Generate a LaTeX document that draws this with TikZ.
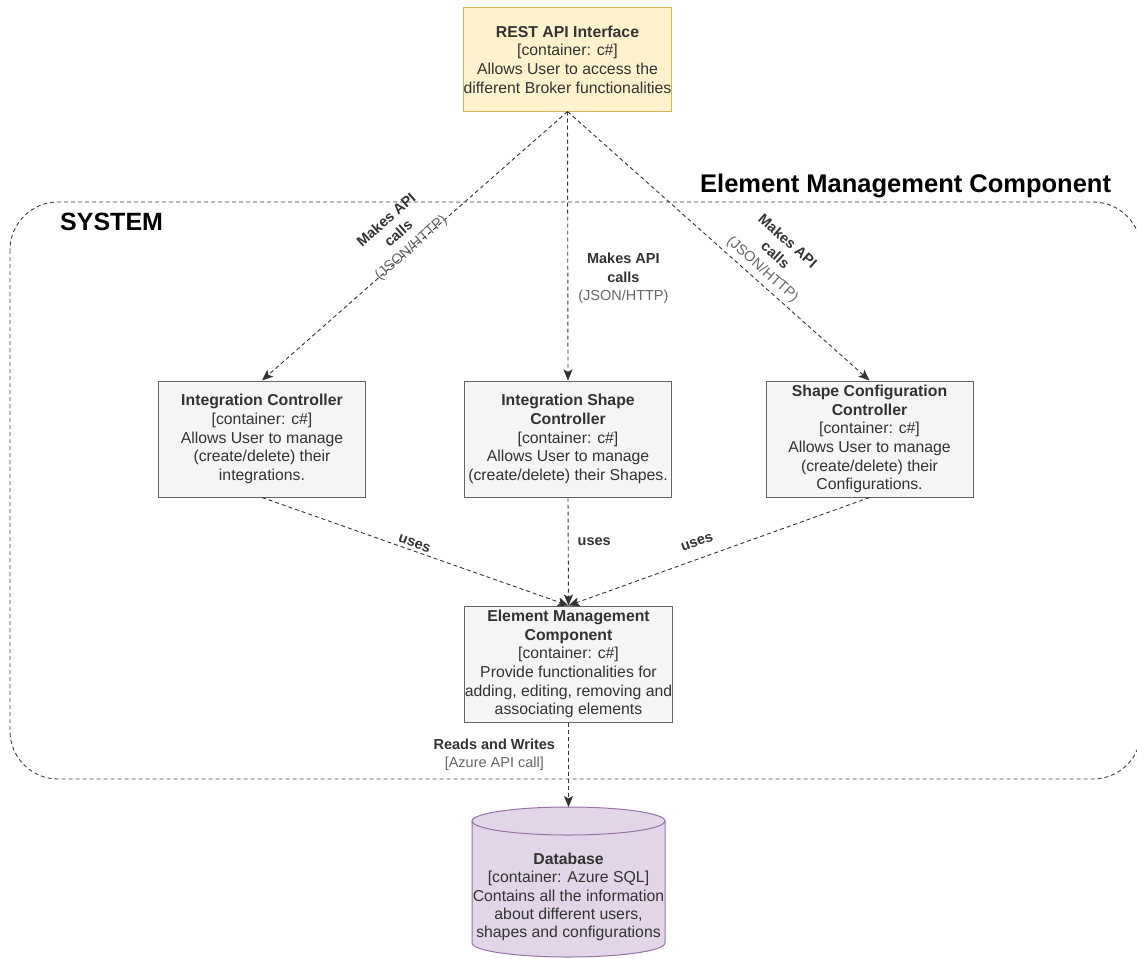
\documentclass[tikz,border=0pt]{standalone}
\usepackage{fontspec}
\setmainfont{Liberation Sans}
\usetikzlibrary{arrows.meta}

\definecolor{boxfill}{HTML}{F5F5F5}
\definecolor{boxline}{HTML}{666666}
\definecolor{boxtext}{HTML}{333333}
\definecolor{apifill}{HTML}{FFF2CC}
\definecolor{apiline}{HTML}{D6B656}
\definecolor{dbfill}{HTML}{E1D5E7}
\definecolor{dbline}{HTML}{9673A6}

\begin{document}
\begin{tikzpicture}[x=1pt, y=-1pt,
    container/.style={draw=boxline, fill=boxfill, text=boxtext, align=center, line width=1pt,
        minimum width=207pt, minimum height=116pt, inner sep=0pt, font=\fontsize{15.8}{18.7}\selectfont},
    api/.style={container, draw=apiline, fill=apifill, minimum height=103pt},
    call/.style={draw=black!80, dash pattern=on 4pt off 3pt, line width=0.9pt,
        -{Stealth[length=11pt, width=9pt, inset=2.5pt]}},
    lbl/.style={text=boxtext, align=center, inner sep=0pt, font=\fontsize{14.5}{18.5}\selectfont},
    boundary/.style={draw=black!75, dash pattern=on 4pt off 3pt, line width=0.9pt, rounded corners=48pt},
    title/.style={anchor=base west, inner sep=0pt, font=\bfseries\fontsize{25}{30}\selectfont}
    ]
                        \useasboundingbox (0,0) rectangle (1137,958);
                        \draw[boundary] (10,202) rectangle (1141,779);
                        \node[title] (systemlbl) at (60,230) {SYSTEM};
                        \node[title, font=\bfseries\fontsize{25.5}{30}\selectfont] (emctitle) at (700,192) {Element Management Component};

                        \node[api] (rest) at (567.5,59.5) {\textbf{REST API Interface}\\{[container: c\#]}\\Allows User to access the\\different Broker functionalities};
                        \node[container] (intctrl) at (262,439) {\textbf{Integration Controller}\\{[container: c\#]}\\Allows User to manage\\(create/delete) their\\integrations.};
                        \node[container] (shapectrl) at (568,439) {\textbf{Integration Shape}\\\textbf{Controller}\\{[container: c\#]}\\Allows User to manage\\(create/delete) their Shapes.};
                        \node[container] (cfgctrl) at (869.5,439) {\textbf{Shape Configuration}\\\textbf{Controller}\\{[container: c\#]}\\Allows User to manage\\(create/delete) their\\Configurations.};
                        \node[container] (emc) at (568.5,664) {\textbf{Element Management}\\\textbf{Component}\\{[container: c\#]}\\Provide functionalities for\\adding, editing, removing and\\associating elements};

                        % database cylinder
                        \coordinate (dbtop) at (568.5,807);
                        \draw[dbline, fill=dbfill, line width=1pt] (472,821) -- (472,943) arc[start angle=180, end angle=360, x radius=96.5pt, y radius=14pt] -- (665,821) arc[start angle=0, end angle=180, x radius=96.5pt, y radius=14pt] -- cycle;
                        \draw[dbline, line width=1pt] (472,821) arc[start angle=180, end angle=360, x radius=96.5pt, y radius=14pt];
                        \node[lbl, font=\fontsize{15.8}{18.4}\selectfont] (db) at (568.5,897) {\textbf{Database}\\{[container: Azure SQL]}\\Contains all the information\\about different users,\\shapes and configurations};

                        \draw[call] (rest.south) -- (intctrl.north) node[lbl, pos=0.51, sloped, yshift=19pt] {\textbf{Makes API}\\\textbf{calls}\\{\color{boxline}(JSON/HTTP)}};
                        \draw[call] (rest.south) -- (shapectrl.north) node[lbl, pos=0.62, anchor=west, xshift=10pt] {\textbf{Makes API}\\\textbf{calls}\\{\color{boxline}(JSON/HTTP)}};
                        \draw[call] (rest.south) -- (cfgctrl.north) node[lbl, pos=0.62, sloped, yshift=30pt] {\textbf{Makes API}\\\textbf{calls}\\{\color{boxline}(JSON/HTTP)}};

                        \draw[call] (intctrl.south) -- (emc.north) node[lbl, pos=0.49, sloped, yshift=7pt] {\textbf{uses}};
                        \draw[call] (shapectrl.south) -- (emc.north) node[lbl, pos=0.41, anchor=west, xshift=9pt] {\textbf{uses}};
                        \draw[call] (cfgctrl.south) -- (emc.north) node[lbl, pos=0.555, sloped, yshift=16pt] {\textbf{uses}};

                        \draw[call] (emc.south) -- (dbtop) node[lbl, pos=0.38, anchor=east, xshift=-13pt] {\textbf{Reads and Writes}\\{\color{boxline}[Azure API call]}};
\end{tikzpicture}
\end{document}
